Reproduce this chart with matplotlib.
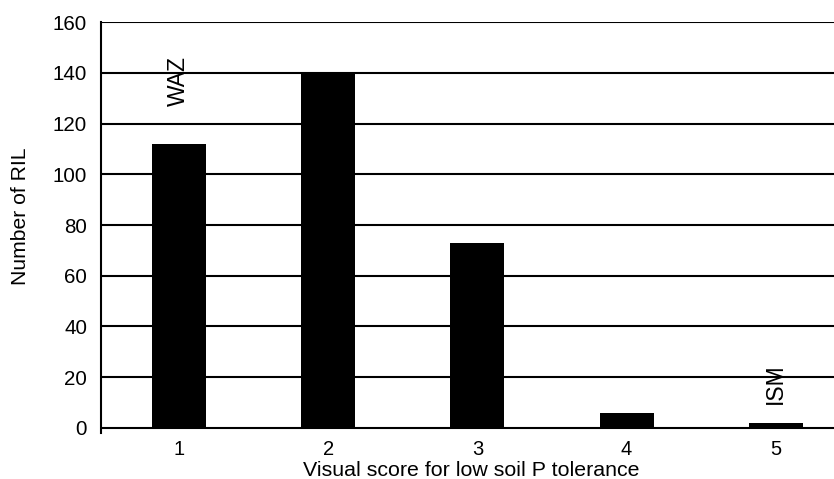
import matplotlib
matplotlib.use("Agg")
import matplotlib.pyplot as plt

# Distribution of RILs across visual tolerance scores
scores = [1, 2, 3, 4, 5]
score_labels = ["1", "2", "3", "4", "5"]
n_ril = [112, 140, 73, 6, 2]
yticks = [0, 20, 40, 60, 80, 100, 120, 140, 160]

# Parent line annotations: (score, y centre, text)
parents = [(1, 136.8, "WAZ"), (5, 17.4, "ISM")]

plt.rcParams["font.family"] = ["Liberation Sans", "DejaVu Sans"]

fig = plt.figure(figsize=(8.34, 4.79), dpi=100)
W, H = 834, 479
left, right = 101, 834
top, bottom = 22.3, 432.8
ax = fig.add_axes([left / W, 1 - bottom / H, (right - left) / W, (bottom - top) / H])

ax.set_xlim(0.478, 5.39)
ax.set_ylim(-2, 160)

# horizontal grid lines, including the zero line
for v in yticks:
    ax.axhline(v, color="black", lw=1.5, zorder=1)

ax.bar(scores, n_ril, width=0.362, color="black", zorder=3)

for s, y, t in parents:
    ax.text(s, y, t, rotation=90, ha="center", va="center", fontsize=16.5, zorder=4)

for side in ["top", "right", "bottom"]:
    ax.spines[side].set_visible(False)
ax.spines["left"].set_linewidth(1.5)
ax.spines["left"].set_color("black")

ax.set_yticks(yticks)
ax.set_yticklabels([str(v) for v in yticks], fontsize=14.8)
ax.set_xticks(scores)
ax.set_xticklabels(score_labels, fontsize=14.5)
ax.tick_params(axis="y", length=0, pad=10)
ax.tick_params(axis="x", length=0, pad=5)

ax.set_ylabel("Number of RIL", fontsize=15.2)
ax.yaxis.set_label_coords(-(101 - 20.5) / (right - left), 0.528)
ax.set_xlabel("Visual score for low soil P tolerance", fontsize=15.4)
ax.xaxis.set_label_coords((471 - left) / (right - left), -(470 - bottom) / (bottom - top))
ax.xaxis.label.set_va("center")
ax.yaxis.label.set_va("center")
fig.savefig("out.png", dpi=100)
